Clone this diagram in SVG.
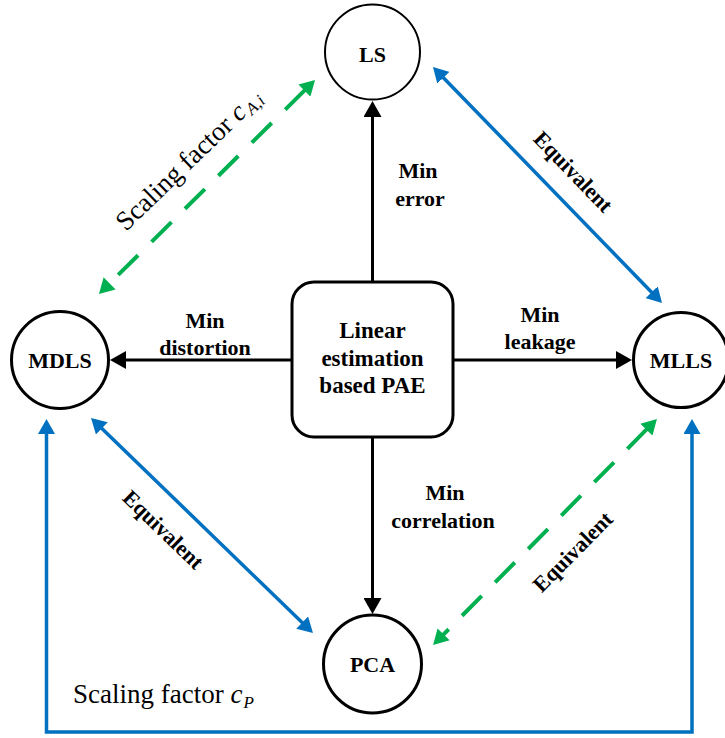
<svg xmlns="http://www.w3.org/2000/svg" width="725" height="738" viewBox="0 0 725 738">
  <style>
    .node { fill: #ffffff; stroke: #000000; stroke-width: 3; }
    .lbl { font-family: "Liberation Serif", "Times New Roman", serif; font-weight: bold; font-size: 22px; fill: #000000; text-anchor: middle; }
    .box { font-family: "Liberation Serif", "Times New Roman", serif; font-weight: bold; font-size: 23px; fill: #000000; text-anchor: middle; }
    .plain { font-family: "Liberation Serif", "Times New Roman", serif; font-size: 27px; fill: #000000; }
    .it { font-style: italic; }
    .k { fill: none; stroke: #000000; stroke-width: 3; }
    .b { fill: none; stroke: #0070C0; stroke-width: 3.5; }
    .g { fill: none; stroke: #00B050; stroke-width: 4; stroke-dasharray: 28 19; }
  </style>
  <defs>
    <marker id="ak" markerUnits="userSpaceOnUse" markerWidth="17" markerHeight="18" refX="1" refY="9" orient="auto-start-reverse" viewBox="0 0 17 18">
      <path d="M0,0 L16,9 L0,18 Z" fill="#000000"/>
    </marker>
    <marker id="ab" markerUnits="userSpaceOnUse" markerWidth="16" markerHeight="17" refX="1" refY="8.5" orient="auto-start-reverse" viewBox="0 0 16 17">
      <path d="M0,0 L15,8.5 L0,17 Z" fill="#0070C0"/>
    </marker>
    <marker id="ag" markerUnits="userSpaceOnUse" markerWidth="16" markerHeight="17" refX="1" refY="8.5" orient="auto-start-reverse" viewBox="0 0 16 17">
      <path d="M0,0 L15,8.5 L0,17 Z" fill="#00B050"/>
    </marker>
  </defs>

  <g id="connectors">
    <!-- criteria from the central block -->
    <line class="k" x1="372.5" y1="282" x2="372.5" y2="116" marker-end="url(#ak)"/>
    <line class="k" x1="292" y1="360" x2="125" y2="360" marker-end="url(#ak)"/>
    <line class="k" x1="453" y1="360" x2="617" y2="360" marker-end="url(#ak)"/>
    <line class="k" x1="372.5" y1="437" x2="372.5" y2="599" marker-end="url(#ak)"/>
    <!-- equivalences -->
    <line class="b" x1="442.7" y1="77" x2="652.3" y2="293" marker-start="url(#ab)" marker-end="url(#ab)"/>
    <line class="b" x1="101.1" y1="427.7" x2="302.9" y2="623.3" marker-start="url(#ab)" marker-end="url(#ab)"/>
    <path class="b" d="M46.5,433 V732 H692 V433" marker-start="url(#ab)" marker-end="url(#ab)"/>
    <line class="g" x1="305.1" y1="89.9" x2="108.9" y2="284.1" marker-start="url(#ag)" marker-end="url(#ag)"/>
    <line class="g" x1="647.1" y1="428.9" x2="442.9" y2="635.1" marker-start="url(#ag)" marker-end="url(#ag)"/>
  </g>

  <g id="edge-labels">
    <text class="lbl"><tspan x="418" y="178">Min</tspan><tspan x="420" y="206">error</tspan></text>
    <text class="lbl"><tspan x="205" y="328">Min</tspan><tspan x="205" y="355">distortion</tspan></text>
    <text class="lbl"><tspan x="540" y="322">Min</tspan><tspan x="540" y="349">leakage</tspan></text>
    <text class="lbl"><tspan x="445" y="500">Min</tspan><tspan x="443" y="528">correlation</tspan></text>
    <text class="lbl" transform="translate(573,172) rotate(46)" x="0" y="7">Equivalent</text>
    <text class="lbl" transform="translate(163,530) rotate(44)" x="0" y="7">Equivalent</text>
    <text class="lbl" transform="translate(573,552) rotate(-45.3)" x="0" y="7">Equivalent</text>
    <text class="plain" transform="translate(126,232) rotate(-44)">Scaling factor <tspan class="it">c</tspan><tspan class="it" font-size="17" dx="2" dy="4">A,i</tspan></text>
    <text class="plain" x="73" y="703">Scaling factor <tspan class="it">c</tspan><tspan class="it" font-size="17" dx="1" dy="5">P</tspan></text>
  </g>

  <g id="node-ls">
    <circle class="node" cx="372.5" cy="52" r="47.5" style="stroke-width:2"/>
    <text class="lbl" x="372.5" y="62">LS</text>
  </g>
  <g id="node-mdls">
    <circle class="node" cx="60" cy="360" r="48.5"/>
    <text class="lbl" x="60" y="368">MDLS</text>
  </g>
  <g id="node-mlls">
    <circle class="node" cx="681" cy="360" r="47.5"/>
    <text class="lbl" x="681" y="368">MLLS</text>
  </g>
  <g id="node-pca">
    <circle class="node" cx="372.5" cy="664" r="49"/>
    <text class="lbl" x="372.5" y="672">PCA</text>
  </g>
  <g id="node-pae">
    <rect class="node" x="292" y="282" width="161" height="155" rx="22" ry="22"/>
    <text class="box"><tspan x="372.5" y="338">Linear</tspan><tspan x="372.5" y="366">estimation</tspan><tspan x="372.5" y="393">based PAE</tspan></text>
  </g>
</svg>
